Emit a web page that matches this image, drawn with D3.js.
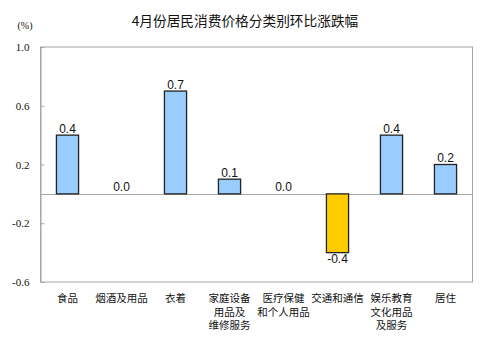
<!DOCTYPE html>
<html>
<head>
<meta charset="utf-8">
<script src="https://cdn.jsdelivr.net/npm/d3@7/dist/d3.min.js"></script>
<style>
  html, body { margin: 0; padding: 0; background: #fff; }
  svg { display: block; }
</style>
</head>
<body>
<svg id="chart" width="484" height="346"></svg>
<script>
// Category names, split into the lines shown under the axis
const categoryLines = [
  ["食品"],
  ["烟酒及用品"],
  ["衣着"],
  ["家庭设备", "用品及", "维修服务"],
  ["医疗保健", "和个人用品"],
  ["交通和通信"],
  ["娱乐教育", "文化用品", "及服务"],
  ["居住"]
];
const categories = categoryLines.map(l => l.join(""));

// Month-on-month change, %
const values = [0.4, 0.0, 0.7, 0.1, 0.0, -0.4, 0.4, 0.2];

const yTicks = [1.0, 0.6, 0.2, -0.2, -0.6];
const title = "4月份居民消费价格分类别环比涨跌幅";
const unitLabel = "(%)";

// One decimal, plain hyphen for negatives
const fmt = d3.formatLocale({ decimal: ".", thousands: ",", grouping: [3], currency: ["", ""], minus: "-" }).format(".1f");

const svg = d3.select("#chart");
const plot = { left: 40.5, right: 472.5, top: 47, bottom: 282 };

const x = d3.scaleBand()
  .domain(categories)
  .range([plot.left, plot.right])
  .paddingInner(0.59)
  .paddingOuter(0.295);

const y = d3.scaleLinear()
  .domain([-0.6, 1.0])
  .range([plot.bottom, plot.top]);

// Title and unit
svg.append("text")
  .attr("x", 245).attr("y", 26)
  .attr("text-anchor", "middle")
  .style("font-family", "'Noto Sans CJK SC', sans-serif")
  .style("font-size", "13.7px")
  .style("fill", "#111")
  .text(title);

svg.append("text")
  .attr("x", 25).attr("y", 29)
  .attr("text-anchor", "middle")
  .style("font-family", "'Liberation Serif', serif")
  .style("font-size", "10px")
  .style("fill", "#111")
  .text(unitLabel);

// Frame
svg.append("rect")
  .attr("x", plot.left).attr("y", plot.top)
  .attr("width", plot.right - plot.left)
  .attr("height", plot.bottom - plot.top)
  .attr("fill", "none")
  .attr("stroke", "#a6a6a6")
  .attr("stroke-width", 1);

// Y axis: inward ticks, labels on the left
const yAxis = d3.axisLeft(y)
  .tickValues(yTicks)
  .tickSizeInner(-4)
  .tickSizeOuter(0)
  .tickPadding(11)
  .tickFormat(fmt);

const gy = svg.append("g")
  .attr("transform", `translate(${plot.left},0)`)
  .call(yAxis);
gy.select(".domain").attr("stroke", "#a6a6a6");
gy.selectAll(".tick line").attr("stroke", "#a6a6a6");
gy.selectAll(".tick text")
  .style("font-family", "'Liberation Serif', serif")
  .style("font-size", "11px")
  .style("fill", "#111");

// Zero line
svg.append("line")
  .attr("x1", plot.left).attr("x2", plot.right)
  .attr("y1", Math.round(y(0)) + 0.5).attr("y2", Math.round(y(0)) + 0.5)
  .attr("stroke", "#a6a6a6");

// Bars
const data = categories.map((c, i) => ({ c, v: values[i] }));

svg.append("g").selectAll("rect")
  .data(data.filter(d => d.v !== 0))
  .join("rect")
  .attr("x", d => x(d.c))
  .attr("width", x.bandwidth())
  .attr("y", d => y(Math.max(0, d.v)))
  .attr("height", d => Math.abs(y(d.v) - y(0)))
  .attr("fill", d => d.v < 0 ? "#ffcc00" : "#99ccff")
  .attr("stroke", "#222")
  .attr("stroke-width", 1.3);

// Value labels
svg.append("g").selectAll("text")
  .data(data)
  .join("text")
  .attr("x", d => x(d.c) + x.bandwidth() / 2)
  .attr("y", d => d.v < 0 ? y(d.v) + 10 : y(d.v) - 2.5)
  .attr("text-anchor", "middle")
  .style("font-family", "'Liberation Sans', Arial, sans-serif")
  .style("font-size", "12px")
  .style("fill", "#111")
  .text(d => fmt(d.v));

// Category labels
const cat = svg.append("g").selectAll("text")
  .data(categoryLines.map((lines, i) => ({ lines, c: categories[i] })))
  .join("text")
  .attr("x", d => x(d.c) + x.bandwidth() / 2)
  .attr("y", 302)
  .attr("text-anchor", "middle")
  .style("font-family", "'Noto Sans CJK SC', sans-serif")
  .style("font-size", "10.5px")
  .style("fill", "#111");

cat.selectAll("tspan")
  .data(d => d.lines.map(t => ({ t, cx: x(d.c) + x.bandwidth() / 2 })))
  .join("tspan")
  .attr("x", d => d.cx)
  .attr("dy", (d, i) => i === 0 ? 0 : 13.5)
  .text(d => d.t);
</script>
</body>
</html>
